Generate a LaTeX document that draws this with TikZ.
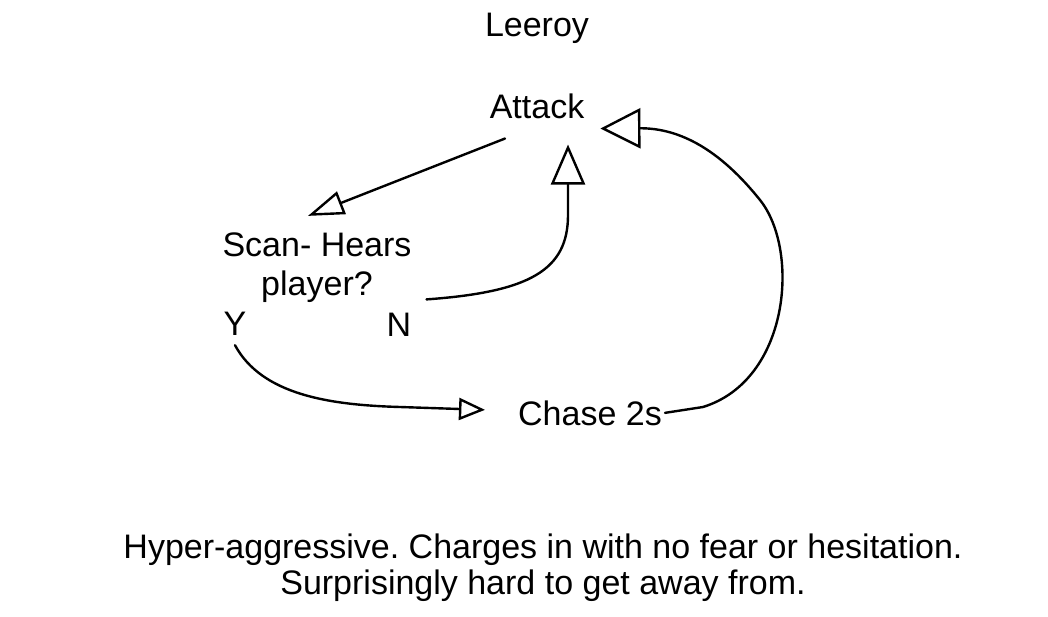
\documentclass[tikz,border=0pt]{standalone}
\usepackage{fontspec}
\setmainfont{Liberation Sans}
\usetikzlibrary{arrows.meta}
\frenchspacing

\begin{document}
\begin{tikzpicture}[x=1pt, y=-1pt, line width=2.4pt,
  txt/.style = {font=\fontsize{34}{39}\selectfont, inner sep=2pt},
  flow/.style = {line cap=round, line join=round}]
\useasboundingbox (0,0) rectangle (1048,617);
\node[txt, anchor=base] (title) at (537,37) {Leeroy};
\node[txt, anchor=base] (attack) at (537,119) {Attack};
\node[txt, align=center] (scan) at (317,268) {Scan- Hears\\player?};
\node[txt, anchor=base] (y) at (235,335) {Y};
\node[txt, anchor=base] (n) at (399,336) {N};
\node[txt, anchor=base] (chase) at (590,425) {Chase 2s};
\node[txt, align=center, font=\fontsize{34}{36}\selectfont] (desc) at (543,568)
  {Hyper-aggressive. Charges in with no fear or hesitation.\\Surprisingly hard to get away from.};
% attack -> scan
\draw[flow, -{Triangle[open, length=36pt, width=24pt]}] ([xshift=-32pt,yshift=-16pt]attack.south) -- ([xshift=-9pt,yshift=14pt]scan.north);
% no -> attack
\draw[flow, -{Triangle[open, length=40pt, width=34pt]}] ([xshift=12pt,yshift=10pt]n.north east)
  .. controls (530,292) and (568,270) .. (568,215) -- ([xshift=31pt,yshift=-22pt]attack.south);
% yes -> chase
\draw[flow, -{Triangle[open, length=26pt, width=22pt]}] ([yshift=-7pt]y.south)
  .. controls (262,395) and (330,405) .. (400,407) -- ([xshift=-30pt,yshift=3pt]chase.west);
% chase -> attack
\draw[flow, -{Triangle[open, length=40pt, width=40pt]}] (chase.east) -- (703,407)
  .. controls (790,380) and (800,250) .. (760,200)
  .. controls (720,150) and (680,128) .. ([xshift=13pt,yshift=-6pt]attack.south east);
\end{tikzpicture}
\end{document}
